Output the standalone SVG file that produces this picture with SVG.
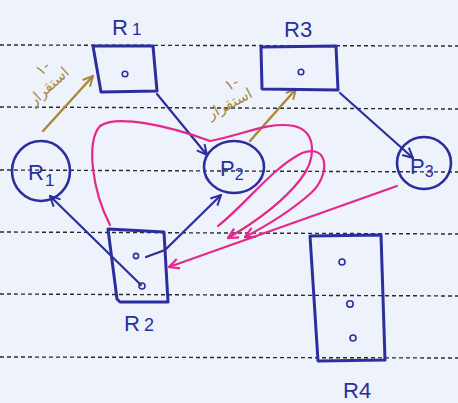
<svg xmlns="http://www.w3.org/2000/svg" width="458" height="403" viewBox="0 0 458 403">
<style>
.paper{fill:#eef2fa}
.rule{stroke:#2a2a2a;stroke-width:1.4;stroke-dasharray:4 3;fill:none}
.box{fill:none;stroke:#2b2f9e;stroke-width:3;stroke-linejoin:round}
.circ{fill:none;stroke:#2b2f9e;stroke-width:2.6}
.dot{fill:none;stroke:#2b2f9e;stroke-width:1.6}
.lbl{font-family:"Liberation Sans","DejaVu Sans",sans-serif;font-size:22px;fill:#2b2f9e}
.blue{fill:none;stroke:#2b2f9e;stroke-width:2.2;stroke-linecap:round}
.gold{fill:none;stroke:#a8893a;stroke-width:2.4;stroke-linecap:round}
.pink{fill:none;stroke:#e4288a;stroke-width:2.2;stroke-linecap:round}
.fa{font-family:"DejaVu Sans","Noto Sans",sans-serif;font-size:15px;fill:#a8893a}
</style>
<defs>
<marker id="mb" viewBox="0 0 12 12" refX="11" refY="6" markerWidth="12" markerHeight="12" markerUnits="userSpaceOnUse" orient="auto">
<path d="M1,1 L11,6 L1,11" fill="none" stroke="#2b2f9e" stroke-width="2"/></marker>
<marker id="mg" viewBox="0 0 12 12" refX="11" refY="6" markerWidth="12" markerHeight="12" markerUnits="userSpaceOnUse" orient="auto">
<path d="M1,1 L11,6 L1,11" fill="none" stroke="#a8893a" stroke-width="2"/></marker>
<marker id="mp" viewBox="0 0 12 12" refX="11" refY="6" markerWidth="12" markerHeight="12" markerUnits="userSpaceOnUse" orient="auto">
<path d="M1,1 L11,6 L1,11" fill="none" stroke="#e4288a" stroke-width="2.2"/></marker>
</defs>
<rect class="paper" x="0" y="0" width="458" height="403"/>
<g id="rules">
<line class="rule" x1="0" y1="45" x2="458" y2="46"/>
<line class="rule" x1="0" y1="107" x2="458" y2="109"/>
<line class="rule" x1="0" y1="170" x2="458" y2="172"/>
<line class="rule" x1="0" y1="232" x2="458" y2="234"/>
<line class="rule" x1="0" y1="294" x2="458" y2="296"/>
<line class="rule" x1="0" y1="357" x2="458" y2="358"/>
</g>
<g id="connectors">
<path class="blue" d="M157,94 L207,155" marker-end="url(#mb)"/>
<path class="blue" d="M340,93 L413,158" marker-end="url(#mb)"/>
<path class="blue" d="M141,285 L50,196" marker-end="url(#mb)"/>
<path class="blue" d="M146,257 L165,250 L221,195" marker-end="url(#mb)"/>
<path class="gold" d="M43,131 L93,76" marker-end="url(#mg)"/>
<path class="gold" d="M250,141 L296,89" marker-end="url(#mg)"/>
<path class="pink" d="M110,225 C92,190 86,142 100,126 C116,114 170,126 210,141 C240,136 268,121 294,126 C318,132 316,160 300,180 C282,203 252,224 228,238" marker-end="url(#mp)"/>
<path class="pink" d="M218,226 C245,205 272,168 302,153 C330,143 330,176 311,193 C292,210 266,226 245,237" marker-end="url(#mp)"/>
<path class="pink" d="M397,186 L169,267" marker-end="url(#mp)"/>
<text class="fa" transform="translate(52,90) rotate(-42)" text-anchor="middle">استقرار</text>
<text class="fa" transform="translate(46,72) rotate(-42)" text-anchor="middle" font-size="12">۱-</text>
<text class="fa" transform="translate(232,108) rotate(-28)" text-anchor="middle">استقرار</text>
<text class="fa" transform="translate(234,88) rotate(-28)" text-anchor="middle" font-size="12">۱-</text>
</g>
<g id="R1">
<polygon class="box" points="93,46 153,46 157,91 101,92"/>
<circle class="dot" cx="125" cy="74" r="2.8"/>
<text class="lbl" x="112" y="35">R<tspan font-size="17" dx="4">1</tspan></text>
</g>
<g id="R3">
<polygon class="box" points="261,47 336,46 338,90 262,89"/>
<circle class="dot" cx="301" cy="72" r="2.8"/>
<text class="lbl" x="284" y="37">R3</text>
</g>
<g id="R2">
<polygon class="box" points="108,229 164,232 168,302 120,302 117,299"/>
<circle class="dot" cx="136" cy="256" r="2.6"/>
<circle class="dot" cx="142" cy="286" r="3"/>
<text class="lbl" x="124" y="331">R<tspan font-size="18" dx="4">2</tspan></text>
</g>
<g id="R4">
<polygon class="box" points="310,236 381,235 385,360 318,361"/>
<circle class="dot" cx="342" cy="262" r="3"/>
<circle class="dot" cx="350" cy="304" r="3.2"/>
<circle class="dot" cx="353" cy="338" r="3"/>
<text class="lbl" x="343" y="398">R4</text>
</g>
<g id="P1">
<ellipse class="circ" cx="41" cy="171" rx="29" ry="30"/>
<text class="lbl" x="28" y="180">R<tspan font-size="17" dx="1" dy="6">1</tspan></text>
</g>
<g id="P2">
<ellipse class="circ" cx="234" cy="167" rx="30" ry="26"/>
<text class="lbl" x="220" y="176">P<tspan font-size="16" dx="0" dy="4">2</tspan></text>
</g>
<g id="P3">
<ellipse class="circ" cx="424" cy="163" rx="27" ry="26"/>
<text class="lbl" x="410" y="174">P<tspan font-size="16" dy="3">3</tspan></text>
</g>
</svg>
